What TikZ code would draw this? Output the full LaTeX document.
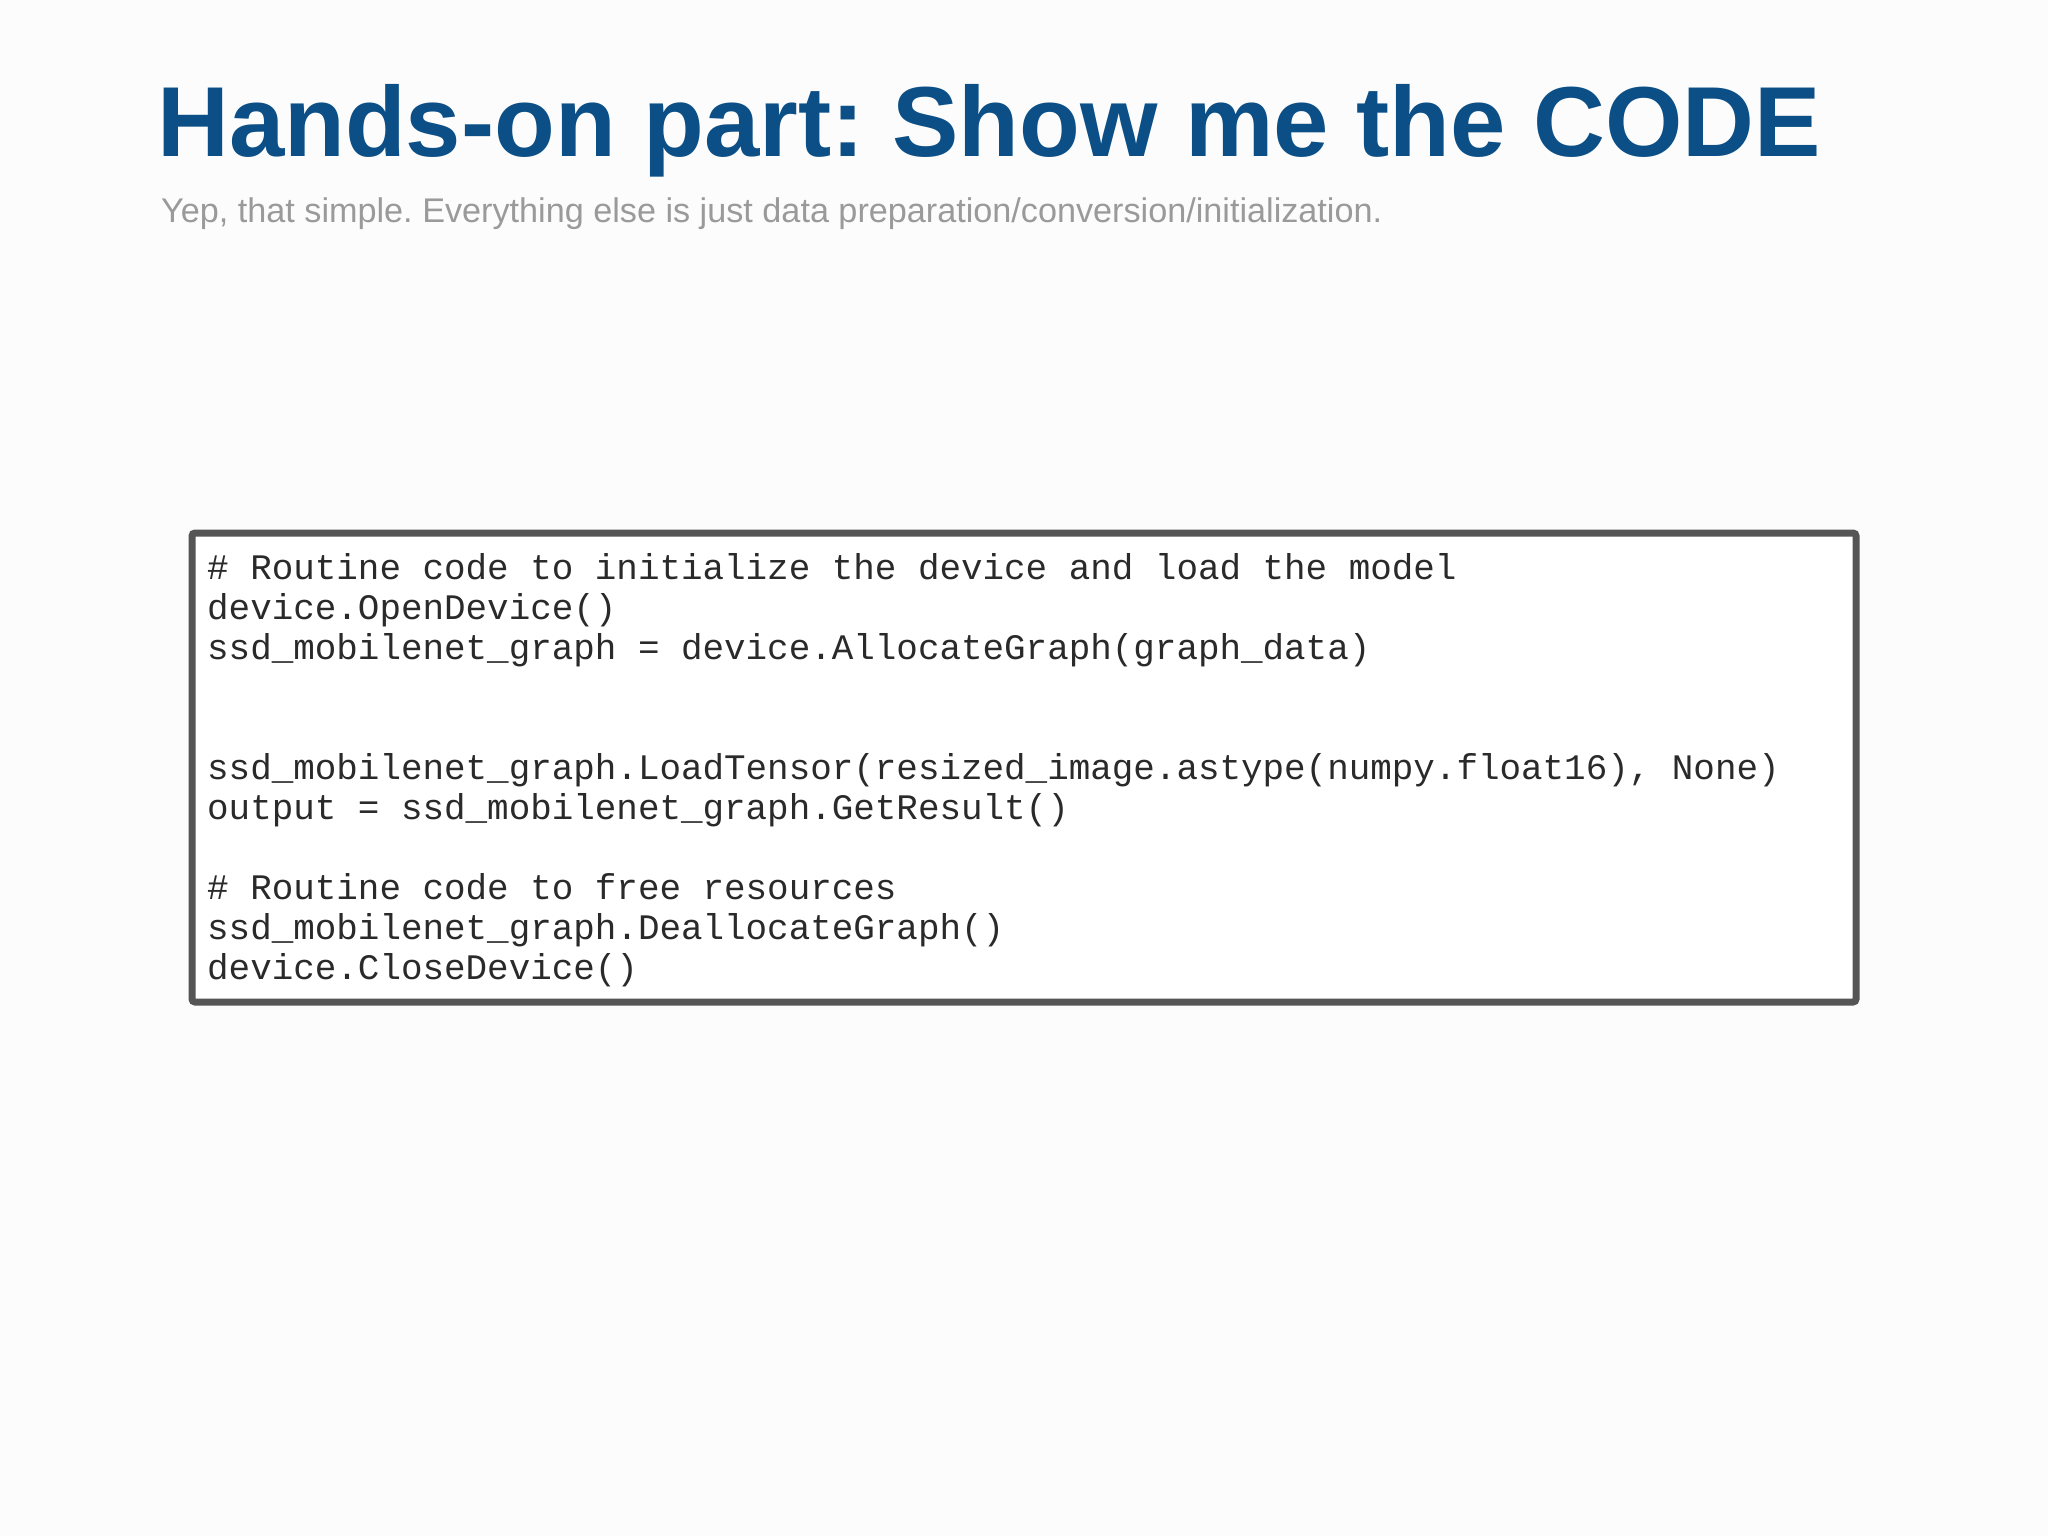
\documentclass[tikz,border=0pt]{standalone}
\usepackage{fontspec}
\setmainfont{Liberation Sans}
\newfontfamily\codefont{Liberation Mono}
\definecolor{titleblue}{HTML}{0B4F86}
\definecolor{subgray}{HTML}{9A9A9A}
\definecolor{boxgray}{HTML}{555555}
\definecolor{codegray}{HTML}{2A2A2A}
\frenchspacing
\begin{document}
\begin{tikzpicture}[x=1pt,y=-1pt,
  codeline/.style={anchor=base west,inner sep=0pt,font=\codefont\fontsize{35.9}{40}\selectfont,text=codegray}]
\fill[white!98!gray] (0,0) rectangle (2048,1536);
\useasboundingbox (0,0) rectangle (2048,1536);
\node[anchor=base west,inner sep=0pt,font=\bfseries\fontsize{99.5}{120}\selectfont,text=titleblue] (title) at (157,157) {Hands-on part: Show me the CODE};
\node[anchor=base west,inner sep=0pt,font=\fontsize{34.2}{40}\selectfont,text=subgray] (sub) at (161,222) {Yep, that simple. Everything else is just data preparation/conversion/initialization.};
\draw[boxgray,line width=7pt,rounded corners=3pt,fill=white] (192,533) rectangle (1856,1002);
\node[codeline] (l1) at (207,579) {\# Routine code to initialize the device and load the model};
\node[codeline] (l2) at (207,619) {device.OpenDevice()};
\node[codeline] (l3) at (207,659) {ssd\_mobilenet\_graph = device.AllocateGraph(graph\_data)};
\node[codeline] (l6) at (207,779) {ssd\_mobilenet\_graph.LoadTensor(resized\_image.astype(numpy.float16), None)};
\node[codeline] (l7) at (207,819) {output = ssd\_mobilenet\_graph.GetResult()};
\node[codeline] (l9) at (207,899) {\# Routine code to free resources};
\node[codeline] (l10) at (207,939) {ssd\_mobilenet\_graph.DeallocateGraph()};
\node[codeline] (l11) at (207,979) {device.CloseDevice()};
\end{tikzpicture}
\end{document}
